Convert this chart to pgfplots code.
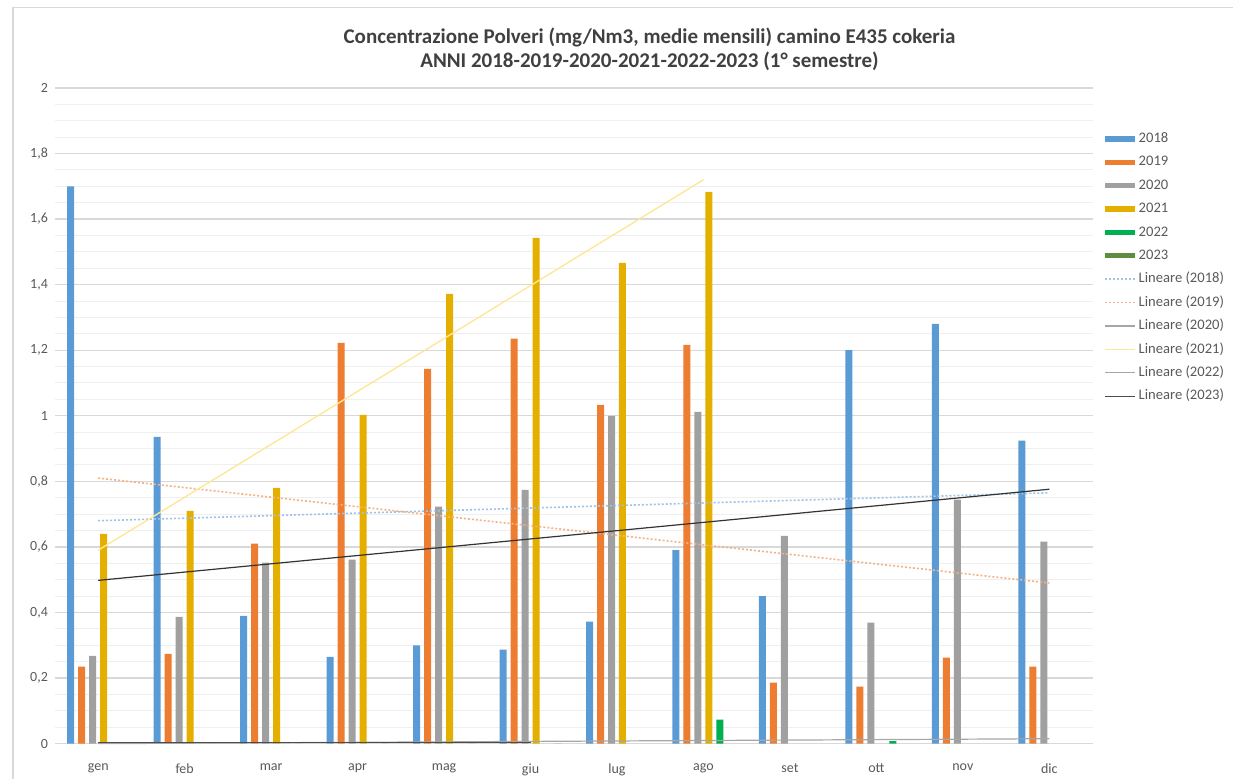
\documentclass[border=0pt]{standalone}
\usepackage{pgfplots}
\pgfplotsset{compat=1.18}
\usepackage{fontspec}
\setmainfont{Carlito}

\definecolor{c18}{HTML}{5B9BD5}
\definecolor{c19}{HTML}{ED7D31}
\definecolor{c20}{HTML}{A0A0A0}
\definecolor{c21}{HTML}{E5AF00}
\definecolor{c22}{HTML}{00B050}
\definecolor{c23}{HTML}{5E8F3E}
\definecolor{t18}{HTML}{9DC3E6}
\definecolor{t19}{HTML}{F4B183}
\definecolor{t21}{HTML}{FFE699}
\definecolor{gridc}{HTML}{D9D9D9}
\definecolor{gridm}{HTML}{EFEFEF}
\definecolor{tickc}{HTML}{595959}
\definecolor{titlec}{HTML}{404040}

\pgfplotsset{
  barleg/.style={legend image code/.code={\fill[##1,draw=none] (0pt,-1.3pt) rectangle (15pt,1.3pt);}},
  lineleg/.style={legend image code/.code={\draw[##1] (0pt,0pt) -- (15pt,0pt);}},
  mybar/.style={ybar, bar width=3.5pt, draw=none, barleg},
}

\begin{document}
\begin{tikzpicture}
\begin{axis}[
  scale only axis, width=519pt, height=328pt,
  xmin=-0.5, xmax=11.5, ymin=0, ymax=2,
  axis lines*=left,
  y axis line style={draw=none},
  x axis line style={draw=gridc, line width=0.8pt},
  tick style={draw=none},
  ytick distance=0.2,
  minor y tick num=3,
  ymajorgrids, yminorgrids,
  major grid style={draw=gridc, line width=0.6pt},
  minor grid style={draw=gridm, line width=0.5pt},
  xtick={0,...,11},
  xticklabels={gen,feb,mar,apr,mag,giu,lug,ago,set,ott,nov,dic},
  ticklabel style={font=\fontsize{7}{8}\selectfont, text=tickc},
  xticklabel style={yshift=-6.5pt},
  /pgf/number format/use comma,
  /pgf/number format/assume math mode=true,
  clip=false,
  legend cell align=left,
  legend style={at={(1.005,0.939)}, anchor=north west, draw=none, fill=none,
    font=\fontsize{7.3}{8}\selectfont, text=tickc, row sep=5.1pt,
    nodes={inner ysep=0pt, inner xsep=1.5pt, text height=5.1pt, text depth=1.5pt}},
]
% barre mensili
\addplot[mybar, bar shift=-13.75pt, fill=c18] coordinates {
  (0,1.70) (1,0.936) (2,0.39) (3,0.265) (4,0.30) (5,0.287)
  (6,0.372) (7,0.59) (8,0.45) (9,1.20) (10,1.28) (11,0.924)};
\addlegendentry{2018}
\addplot[mybar, bar shift=-8.25pt, fill=c19] coordinates {
  (0,0.235) (1,0.274) (2,0.61) (3,1.222) (4,1.143) (5,1.235)
  (6,1.033) (7,1.216) (8,0.186) (9,0.174) (10,0.262) (11,0.235)};
\addlegendentry{2019}
\addplot[mybar, bar shift=-2.75pt, fill=c20] coordinates {
  (0,0.268) (1,0.387) (2,0.552) (3,0.561) (4,0.723) (5,0.774)
  (6,1.00) (7,1.012) (8,0.634) (9,0.369) (10,0.744) (11,0.616)};
\addlegendentry{2020}
\addplot[mybar, bar shift=2.75pt, fill=c21] coordinates {
  (0,0.64) (1,0.71) (2,0.78) (3,1.003) (4,1.372) (5,1.543)
  (6,1.466) (7,1.683)};
\addlegendentry{2021}
\addplot[mybar, bar shift=8.25pt, fill=c22] coordinates {
  (7,0.073) (9,0.008)};
\addlegendentry{2022}
\addplot[mybar, bar shift=13.75pt, fill=c23] coordinates {
  (0,0) (1,0) (2,0) (3,0) (4,0) (5,0)};
\addlegendentry{2023}

% linee di tendenza
\addplot[t18, line width=0.8pt, dash pattern=on 1pt off 1pt, lineleg] coordinates {(0,0.68) (11,0.765)};
\addlegendentry{Lineare (2018)}
\addplot[t19, line width=0.8pt, dash pattern=on 1pt off 1pt, lineleg] coordinates {(0,0.81) (11,0.49)};
\addlegendentry{Lineare (2019)}
\addplot[black!80, line width=0.6pt,
  legend image code/.code={\draw[gray!70, line width=0.6pt] (0pt,0pt) -- (15pt,0pt);}]
  coordinates {(0,0.498) (11,0.776)};
\addlegendentry{Lineare (2020)}
\addplot[t21, line width=0.7pt, lineleg] coordinates {(0,0.59) (7,1.72)};
\addlegendentry{Lineare (2021)}
\addplot[gray!70, line width=0.6pt, lineleg] coordinates {(0,0.0) (11,0.015)};
\addlegendentry{Lineare (2022)}
\addplot[black!70, line width=0.5pt, lineleg] coordinates {(0,0.003) (5,0.003)};
\addlegendentry{Lineare (2023)}

\node[align=center, font=\fontsize{10.5}{12}\selectfont\bfseries, text=titlec]
  at (rel axis cs:0.573,1.0595)
  {Concentrazione Polveri (mg/Nm3, medie mensili) camino E435 cokeria\\
   ANNI 2018-2019-2020-2021-2022-2023 (1° semestre)};
\path[use as bounding box] (rel axis cs:-0.053,-0.0534) rectangle (rel axis cs:1.1349,1.1341);
\draw[gridc, line width=0.6pt] (rel axis cs:-0.0405,-0.0534) -- (rel axis cs:-0.0405,1.123) -- (rel axis cs:1.1349,1.123);
\end{axis}
\end{tikzpicture}
\end{document}
